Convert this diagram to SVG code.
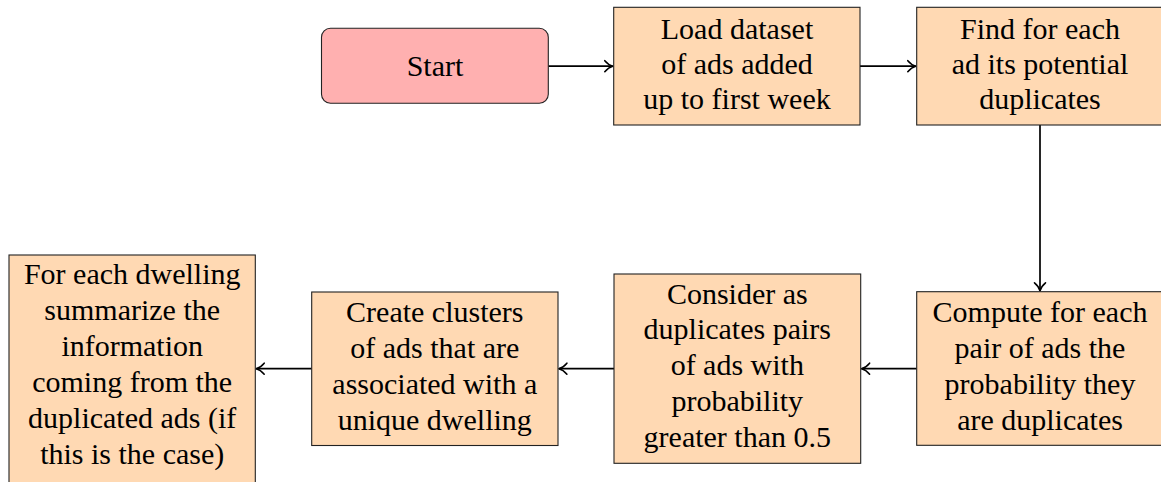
<svg xmlns="http://www.w3.org/2000/svg" width="1161" height="482" viewBox="0 0 1161 482">
<defs>
<marker id="ah" markerUnits="userSpaceOnUse" markerWidth="14" markerHeight="14" viewBox="-10 -7 12 14" refX="0" refY="0" orient="auto">
<path d="M-8,-5.5 C-5.5,-2.5 -2.5,-0.6 0,0 C-2.5,0.6 -5.5,2.5 -8,5.5" fill="none" stroke="#000" stroke-width="1.6" stroke-linecap="round" stroke-linejoin="round"/>
</marker>
</defs>
<g id="connectors" stroke="#000" stroke-width="1.7" fill="none">
<line x1="548.3" y1="66.2" x2="612.8" y2="66.2" marker-end="url(#ah)"/>
<line x1="860" y1="66.2" x2="915.8" y2="66.2" marker-end="url(#ah)"/>
<line x1="1040" y1="125" x2="1040" y2="290.8" marker-end="url(#ah)"/>
<line x1="916.7" y1="368.7" x2="861.6" y2="368.7" marker-end="url(#ah)"/>
<line x1="614" y1="368.7" x2="558.9" y2="368.7" marker-end="url(#ah)"/>
<line x1="311.7" y1="368.7" x2="256.2" y2="368.7" marker-end="url(#ah)"/>
</g>
<g id="start">
<rect x="321.5" y="28.3" width="226.8" height="75" rx="9" ry="9" fill="#FFB0B0" stroke="#222" stroke-width="1.1"/>
<text x="435" y="76" font-family="Liberation Serif" font-size="30" text-anchor="middle">Start</text>
</g>
<g id="load">
<rect x="613.7" y="7.3" width="246.3" height="117.7" fill="#FFD9B3" stroke="#222" stroke-width="1.1"/>
<text x="737" y="38.5" font-family="Liberation Serif" font-size="30" text-anchor="middle">Load dataset</text>
<text x="737" y="73.7" font-family="Liberation Serif" font-size="30" text-anchor="middle">of ads added</text>
<text x="737" y="108.9" font-family="Liberation Serif" font-size="30" text-anchor="middle">up to first week</text>
</g>
<g id="find">
<rect x="916.7" y="7.3" width="246.6" height="117.7" fill="#FFD9B3" stroke="#222" stroke-width="1.1"/>
<text x="1040" y="38.5" font-family="Liberation Serif" font-size="30" text-anchor="middle">Find for each</text>
<text x="1040" y="73.7" font-family="Liberation Serif" font-size="30" text-anchor="middle">ad its potential</text>
<text x="1040" y="108.9" font-family="Liberation Serif" font-size="30" text-anchor="middle">duplicates</text>
</g>
<g id="compute">
<rect x="916.7" y="291.7" width="246.6" height="153.6" fill="#FFD9B3" stroke="#222" stroke-width="1.1"/>
<text x="1040" y="322.4" font-family="Liberation Serif" font-size="30" text-anchor="middle">Compute for each</text>
<text x="1040" y="358.1" font-family="Liberation Serif" font-size="30" text-anchor="middle">pair of ads the</text>
<text x="1040" y="393.8" font-family="Liberation Serif" font-size="30" text-anchor="middle">probability they</text>
<text x="1040" y="429.5" font-family="Liberation Serif" font-size="30" text-anchor="middle">are duplicates</text>
</g>
<g id="consider">
<rect x="614" y="274" width="246.7" height="189.3" fill="#FFD9B3" stroke="#222" stroke-width="1.1"/>
<text x="737.3" y="303.6" font-family="Liberation Serif" font-size="30" text-anchor="middle">Consider as</text>
<text x="737.3" y="339.4" font-family="Liberation Serif" font-size="30" text-anchor="middle">duplicates pairs</text>
<text x="737.3" y="375.2" font-family="Liberation Serif" font-size="30" text-anchor="middle">of ads with</text>
<text x="737.3" y="411" font-family="Liberation Serif" font-size="30" text-anchor="middle">probability</text>
<text x="737.3" y="446.8" font-family="Liberation Serif" font-size="30" text-anchor="middle">greater than 0.5</text>
</g>
<g id="create">
<rect x="311.7" y="292" width="246.3" height="153.5" fill="#FFD9B3" stroke="#222" stroke-width="1.1"/>
<text x="434.8" y="322.4" font-family="Liberation Serif" font-size="30" text-anchor="middle">Create clusters</text>
<text x="434.8" y="358.1" font-family="Liberation Serif" font-size="30" text-anchor="middle">of ads that are</text>
<text x="434.8" y="393.8" font-family="Liberation Serif" font-size="30" text-anchor="middle">associated with a</text>
<text x="434.8" y="429.5" font-family="Liberation Serif" font-size="30" text-anchor="middle">unique dwelling</text>
</g>
<g id="summarize">
<rect x="9" y="255" width="246.3" height="228" fill="#FFD9B3" stroke="#222" stroke-width="1.1"/>
<text x="132.2" y="283.5" font-family="Liberation Serif" font-size="30" text-anchor="middle">For each dwelling</text>
<text x="132.2" y="319.5" font-family="Liberation Serif" font-size="30" text-anchor="middle">summarize the</text>
<text x="132.2" y="355.5" font-family="Liberation Serif" font-size="30" text-anchor="middle">information</text>
<text x="132.2" y="391.5" font-family="Liberation Serif" font-size="30" text-anchor="middle">coming from the</text>
<text x="132.2" y="427.5" font-family="Liberation Serif" font-size="30" text-anchor="middle">duplicated ads (if</text>
<text x="132.2" y="463.5" font-family="Liberation Serif" font-size="30" text-anchor="middle">this is the case)</text>
</g>
</svg>
